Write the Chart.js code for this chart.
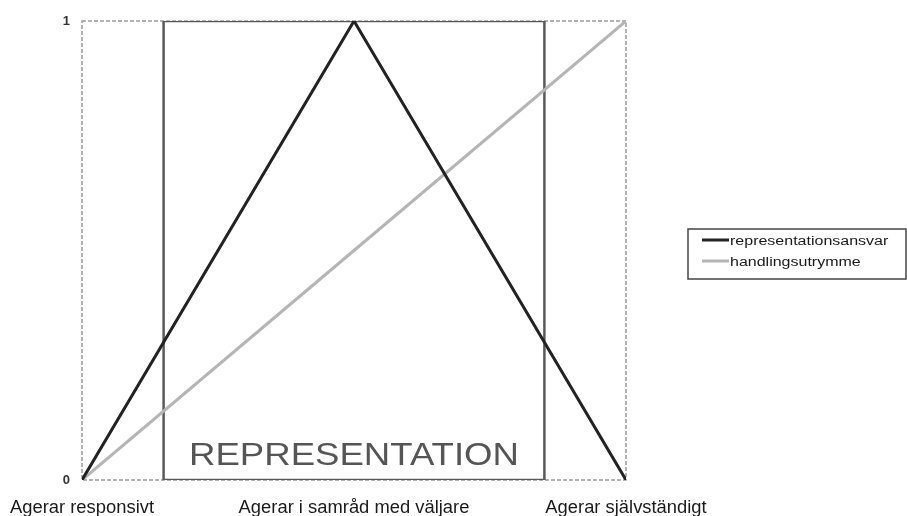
<!DOCTYPE html>
<html><head><meta charset="utf-8">
<script src="https://cdn.jsdelivr.net/npm/chart.js@4/dist/chart.umd.min.js"></script>
<style>html,body{margin:0;padding:0;background:#fff}#wrap{width:907px;height:516px}</style>
</head><body><div id="wrap"><canvas id="c" width="907" height="516"></canvas></div>
<script>
const xLabels = ['Agerar responsivt', 'Agerar i samråd med väljare', 'Agerar självständigt'];
const xPositions = [0, 1, 2];
const representationsansvar = [0, 1, 0];
const handlingsutrymme = [0, 0.5, 1];
const yTicks = [0, 1];
const rectX = [0.3, 1.7];
const rectLabel = 'REPRESENTATION';
const seriesNames = ['representationsansvar', 'handlingsutrymme'];
const seriesColors = ['#222222', '#b5b5b5'];

const FONT = '"Liberation Sans", Arial, sans-serif';

function pts(vals){ return xPositions.map((x,i)=>({x, y: vals[i]})); }
const rectPts = [
  {x: rectX[0], y: yTicks[0]}, {x: rectX[0], y: yTicks[1]},
  {x: rectX[1], y: yTicks[1]}, {x: rectX[1], y: yTicks[0]}, {x: rectX[0], y: yTicks[0]}
];

function stretchedText(ctx, text, x, y, size, scaleX, color, align, weight){
  ctx.save();
  ctx.font = (weight||'normal') + ' ' + size + 'px ' + FONT;
  ctx.fillStyle = color;
  ctx.textBaseline = 'alphabetic';
  ctx.textAlign = 'left';
  const w = ctx.measureText(text).width * scaleX;
  let x0 = x;
  if (align === 'center') x0 = x - w/2;
  ctx.translate(x0, y);
  ctx.scale(scaleX, 1);
  ctx.fillText(text, 0, 0);
  ctx.restore();
  return w;
}

const decor = {
  id: 'decor',
  beforeDatasetsDraw(chart){
    const {ctx, chartArea: a} = chart;
    ctx.save();
    ctx.strokeStyle = '#9a9a9a';
    ctx.lineWidth = 1.5;
    ctx.setLineDash([4, 2]);
    ctx.strokeRect(a.left, a.top, a.right - a.left, a.bottom - a.top);
    ctx.restore();
  },
  afterDraw(chart){
    const {ctx, scales: {x, y}} = chart;
    // rectangle label
    const cx = (x.getPixelForValue(rectX[0]) + x.getPixelForValue(rectX[1])) / 2;
    stretchedText(ctx, rectLabel, cx, y.getPixelForValue(0) - 15, 31, 1.18, '#555555', 'center');
    // x labels
    xLabels.forEach((t,i)=>{
      stretchedText(ctx, t, x.getPixelForValue(xPositions[i]), 513, 17.5, 1.05, '#1a1a1a', 'center');
    });
    // legend
    const lx = 688, ly = 229, lw = 218, lh = 50;
    ctx.save();
    ctx.strokeStyle = '#444'; ctx.lineWidth = 1.5;
    ctx.strokeRect(lx, ly, lw, lh);
    seriesNames.forEach((n,i)=>{
      const yy = 240 + i*21;
      ctx.strokeStyle = seriesColors[i]; ctx.lineWidth = 3;
      ctx.beginPath(); ctx.moveTo(702, yy); ctx.lineTo(729, yy); ctx.stroke();
      stretchedText(ctx, n, 730, yy + 5, 12.5, 1.28, '#1a1a1a', 'left');
    });
    ctx.restore();
  }
};

new Chart(document.getElementById('c'), {
  type: 'line',
  data: {
    datasets: [
      { label: seriesNames[0], data: pts(representationsansvar), borderColor: seriesColors[0], borderWidth: 3, pointRadius: 0, tension: 0 },
      { label: seriesNames[1], data: pts(handlingsutrymme), borderColor: seriesColors[1], borderWidth: 3, pointRadius: 0, tension: 0 },
      { label: rectLabel, data: rectPts, borderColor: '#5a5a5a', borderWidth: 2.5, pointRadius: 0, tension: 0 }
    ]
  },
  options: {
    responsive: false,
    animation: false,
    events: [],
    layout: { padding: { left: 0, right: 281, top: 21, bottom: 0 } },
    plugins: { legend: { display: false }, tooltip: { enabled: false } },
    scales: {
      x: {
        type: 'linear', min: 0, max: 2,
        grid: { display: false, drawTicks: false },
        border: { display: false },
        ticks: { display: true, stepSize: 1, color: 'rgba(0,0,0,0)', callback: () => '' },
        afterFit: s => { s.height = 36; }
      },
      y: {
        min: 0, max: 1,
        grid: { display: false, drawTicks: false },
        border: { display: false },
        afterBuildTicks: s => { s.ticks = yTicks.map(v => ({value: v})); },
        ticks: { padding: 12, color: '#333', font: { family: FONT, size: 13, weight: 'bold' } },
        afterFit: s => { s.width = 82; }
      }
    }
  },
  plugins: [decor]
});
</script>
</body></html>
